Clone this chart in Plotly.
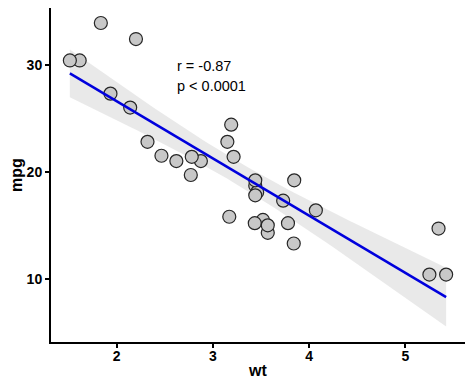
import numpy as np
import plotly.graph_objects as go

wt = [2.620, 2.875, 2.320, 3.215, 3.440, 3.460, 3.570, 3.190, 3.150, 3.440, 3.440,
      4.070, 3.730, 3.780, 5.250, 5.424, 5.345, 2.200, 1.615, 1.835, 2.465, 3.520,
      3.435, 3.840, 3.845, 1.935, 2.140, 1.513, 3.170, 2.770, 3.570, 2.780]
mpg = [21.0, 21.0, 22.8, 21.4, 18.7, 18.1, 14.3, 24.4, 22.8, 19.2, 17.8,
       16.4, 17.3, 15.2, 10.4, 10.4, 14.7, 32.4, 30.4, 33.9, 21.5, 15.5,
       15.2, 13.3, 19.2, 27.3, 26.0, 30.4, 15.8, 19.7, 15.0, 21.4]
x_ticks = [2, 3, 4, 5]
y_ticks = [10, 20, 30]
stat_lines = ["r = -0.87", "p < 0.0001"]

x = np.array(wt)
y = np.array(mpg)
n = len(x)
b1, b0 = np.polyfit(x, y, 1)
xs = np.linspace(x.min(), x.max(), 80)
ys = b0 + b1 * xs
resid = y - (b0 + b1 * x)
s = np.sqrt(np.sum(resid ** 2) / (n - 2))
sxx = np.sum((x - x.mean()) ** 2)
tval = 2.042272  # t(0.975, df=30)
se = s * np.sqrt(1 / n + (xs - x.mean()) ** 2 / sxx)
lo = ys - tval * se
hi = ys + tval * se

FONT = "Liberation Sans"
fig = go.Figure()
fig.add_trace(go.Scatter(x=np.concatenate([xs, xs[::-1]]), y=np.concatenate([hi, lo[::-1]]),
                         fill="toself", fillcolor="rgba(153,153,153,0.22)",
                         line=dict(width=0), mode="lines", hoverinfo="skip", showlegend=False))
fig.add_trace(go.Scatter(x=wt, y=mpg, mode="markers",
                         marker=dict(size=13, color="#c8c8c8", line=dict(color="#262626", width=1.2)),
                         showlegend=False))
fig.add_trace(go.Scatter(x=xs, y=ys, mode="lines", line=dict(color="#0000dd", width=2.5),
                         showlegend=False))

fig.add_annotation(x=2.61, y=29.9, text=stat_lines[0], showarrow=False, xanchor="left",
                   yanchor="middle", font=dict(size=14.5, color="black", family=FONT))
fig.add_annotation(x=2.61, y=28.0, text=stat_lines[1], showarrow=False, xanchor="left",
                   yanchor="middle", font=dict(size=14.5, color="black", family=FONT))

axis_common = dict(showgrid=False, zeroline=False, showline=True, linecolor="black", linewidth=2,
                   ticks="outside", ticklen=4, tickwidth=1.5, tickcolor="black", automargin=False,
                   tickfont=dict(size=14, color="black", family=FONT, weight="bold"))
fig.update_xaxes(range=[1.317, 5.62], tickvals=x_ticks, ticklabelstandoff=-4,
                 title=dict(text="wt", font=dict(size=16, color="black", family=FONT, weight="bold"), standoff=2),
                 **axis_common)
fig.update_yaxes(range=[4.1, 35.3], tickvals=y_ticks,
                 title=dict(text="mpg", font=dict(size=16, color="black", family=FONT, weight="bold"), standoff=6),
                 **axis_common)
# page body adds an 8px offset, so the figure is sized to fit the remaining window
fig.update_layout(width=466, height=379, margin=dict(l=43, r=9, t=0, b=45),
                  plot_bgcolor="white", paper_bgcolor="white")
fig.write_html("out.html")
